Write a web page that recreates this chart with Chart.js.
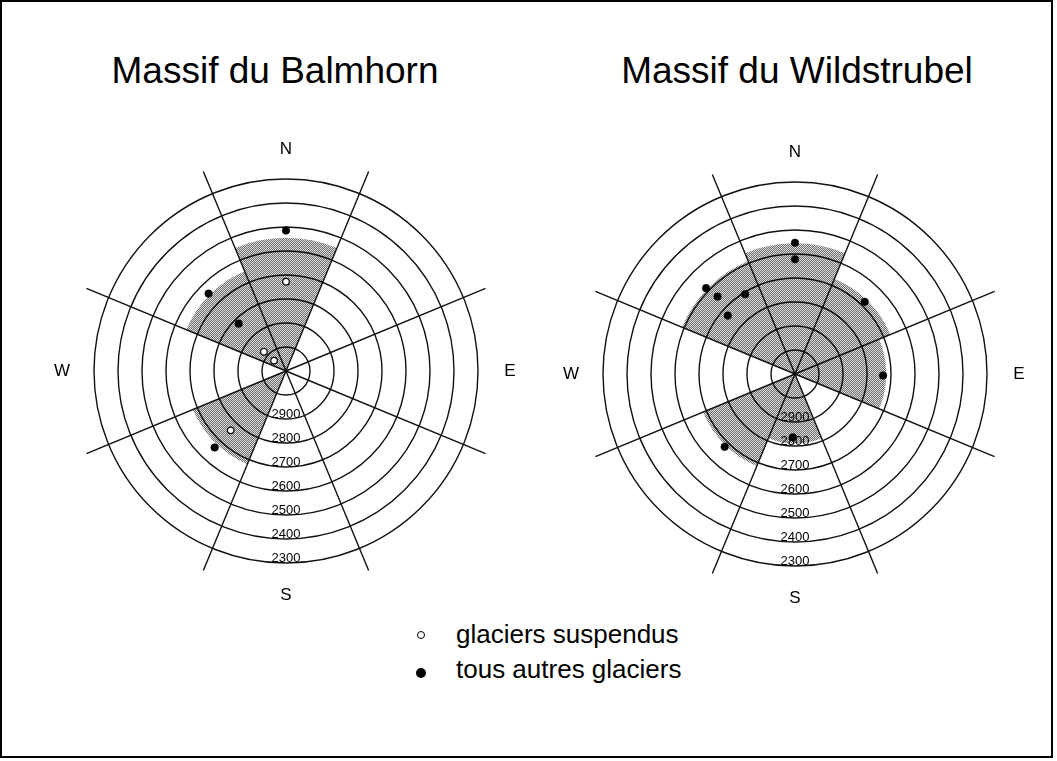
<!DOCTYPE html>
<html>
<head>
<meta charset="utf-8">
<script src="https://cdn.jsdelivr.net/npm/chart.js@4.4.1/dist/chart.umd.min.js"></script>
<style>
  html, body { margin: 0; padding: 0; background: #fff; }
  #page { position: relative; width: 1057px; height: 761px; overflow: hidden; background: #fff;
          font-family: 'Liberation Sans', Arial, Helvetica, sans-serif; color: #000; }
  #frame { position: absolute; left: 0; top: 0; width: 1053px; height: 758px; border: 2px solid #000; box-sizing: border-box; }
  .title { position: absolute; top: 52px; font-size: 37px; line-height: 37px; white-space: nowrap; transform: translateX(-50%); }
  canvas { position: absolute; }
  .leg { position: absolute; left: 456px; font-size: 26px; line-height: 26px; white-space: nowrap; }
  .mk { position: absolute; border-radius: 50%; box-sizing: border-box; }
</style>
</head>
<body>
<div id="page">
  <div id="frame"></div>
  <div class="title" style="left:275px;">Massif du Balmhorn</div>
  <div class="title" style="left:797px;">Massif du Wildstrubel</div>
  <canvas id="balmhorn" width="480" height="480" style="left:46px; top:131px;"></canvas>
  <canvas id="wildstrubel" width="480" height="480" style="left:555px; top:134px;"></canvas>
  <div class="mk" style="left:417px; top:631px; width:8px; height:8px; border:1.3px solid #000; background:#fff;"></div>
  <div class="leg" style="top:621px;">glaciers suspendus</div>
  <div class="mk" style="left:416px; top:668px; width:10px; height:10px; background:#000;"></div>
  <div class="leg" style="top:656px;">tous autres glaciers</div>
</div>
<script>
// ---------- data ----------
const sectorNames = ['N', 'NE', 'E', 'SE', 'S', 'SW', 'W', 'NW'];
const compassLabels = ['N', 'E', 'S', 'W'];
const compassBearings = [0, 90, 180, 270];
const ringValues = [2300, 2400, 2500, 2600, 2700, 2800, 2900];

// Massif du Balmhorn
const balmhornSectorAlt = [2545, null, null, null, null, 2680, null, 2650];
const balmhornHangingBearing = [0, 311, 311, 223];
const balmhornHangingAlt = [2728, 2978, 3034, 2762];
const balmhornOtherBearing = [0, 315, 315, 223];
const balmhornOtherAlt = [2515, 2644, 2821, 2664];

// Massif du Wildstrubel
const wildstrubelSectorAlt = [2555, 2670, 2720, null, 2810, 2685, null, 2590];
const wildstrubelHangingBearing = [];
const wildstrubelHangingAlt = [];
const wildstrubelOtherBearing = [0, 0, 314, 315, 328, 311, 44, 91, 224, 182];
const wildstrubelOtherAlt = [2553, 2622, 2585, 2644, 2708, 2729, 2682, 2733, 2678, 2836];

// ---------- scale setup ----------
const altMin = 2200, altMax = 3100, altStep = 100;
const startBearing = -22.5;       // first sector (N) starts here
const angleStep = 0.5;            // angular resolution of the radial scale
const nAngles = 720;
const plotRadius = 216;
const angleLabels = Array.from({ length: nAngles }, (_, i) => String(startBearing + i * angleStep));

function bearingIndex(b) {
  const i = Math.round((b - startBearing) / angleStep);
  return ((i % nAngles) + nAngles) % nAngles;
}
function buildLayers(bearings, alts) {
  const layers = [];
  bearings.forEach((b, k) => {
    const idx = bearingIndex(b);
    let layer = layers.find(l => l[idx] === null);
    if (!layer) { layer = new Array(nAngles).fill(null); layers.push(layer); }
    layer[idx] = alts[k];
  });
  return layers;
}
function makePattern() {
  const c = document.createElement('canvas');
  c.width = 2; c.height = 2;
  const g = c.getContext('2d');
  g.fillStyle = 'rgba(0,0,0,0.58)';
  g.fillRect(0, 0, 1, 1); g.fillRect(1, 1, 1, 1);
  g.fillStyle = 'rgba(0,0,0,0.12)';
  g.fillRect(1, 0, 1, 1); g.fillRect(0, 1, 1, 1);
  return g.createPattern(c, 'repeat');
}

const roseLabels = {
  id: 'roseLabels',
  afterDraw(chart) {
    const s = chart.scales.r, ctx = chart.ctx;
    ctx.save();
    ctx.fillStyle = '#000';
    ctx.textAlign = 'center';
    ctx.textBaseline = 'middle';
    ctx.font = "13px 'Liberation Sans', Arial, sans-serif";
    s.ticks.forEach(t => {
      if (!t.label) return;
      const d = s.getDistanceFromCenterForValue(t.value);
      ctx.fillText(t.label, s.xCenter, s.yCenter + d - 5);
    });
    ctx.font = "17px 'Liberation Sans', Arial, sans-serif";
    compassLabels.forEach((lab, k) => {
      const p = s.getPointPosition(bearingIndex(compassBearings[k]), s.drawingArea + 8);
      ctx.fillText(lab, p.x, p.y + (k === 0 ? 2 : 0));
    });
    ctx.restore();
  }
};

function makeChart(id, sectorAlt, hangB, hangA, otherB, otherA) {
  const datasets = [];
  buildLayers(otherB, otherA).forEach(d => datasets.push({
    type: 'radar', label: 'tous autres glaciers', data: d, showLine: false, fill: false,
    pointRadius: 3.8, pointBackgroundColor: '#000', pointBorderColor: '#000', pointBorderWidth: 0.5, order: 0
  }));
  buildLayers(hangB, hangA).forEach(d => datasets.push({
    type: 'radar', label: 'glaciers suspendus', data: d, showLine: false, fill: false,
    pointRadius: 3.3, pointBackgroundColor: '#fff', pointBorderColor: '#000', pointBorderWidth: 1.2, order: 0
  }));
  datasets.push({
    type: 'polarArea', label: 'secteurs', data: sectorAlt,
    backgroundColor: makePattern(), borderWidth: 0, order: 5
  });
  return new Chart(document.getElementById(id), {
    type: 'polarArea',
    data: { labels: angleLabels, datasets },
    options: {
      responsive: false,
      animation: false,
      events: [],
      plugins: { legend: { display: false }, tooltip: { enabled: false } },
      scales: {
        r: {
          type: 'radialLinear',
          min: altMin, max: altMax, reverse: true,
          startAngle: startBearing,
          ticks: {
            display: false, stepSize: altStep,
            callback: v => (ringValues.includes(v) ? String(v) : '')
          },
          grid: {
            circular: true, color: '#111',
            lineWidth: c => (c.tick && c.tick.value <= altMin ? 0 : 1.4)
          },
          angleLines: {
            display: true, color: '#111',
            lineWidth: c => (c.index % 90 === 0 ? 1.4 : 0)
          },
          pointLabels: { display: false },
          afterFit: s => { s.drawingArea = plotRadius; }
        }
      }
    },
    plugins: [roseLabels]
  });
}

makeChart('balmhorn', balmhornSectorAlt, balmhornHangingBearing, balmhornHangingAlt, balmhornOtherBearing, balmhornOtherAlt);
makeChart('wildstrubel', wildstrubelSectorAlt, wildstrubelHangingBearing, wildstrubelHangingAlt, wildstrubelOtherBearing, wildstrubelOtherAlt);
</script>
</body>
</html>
